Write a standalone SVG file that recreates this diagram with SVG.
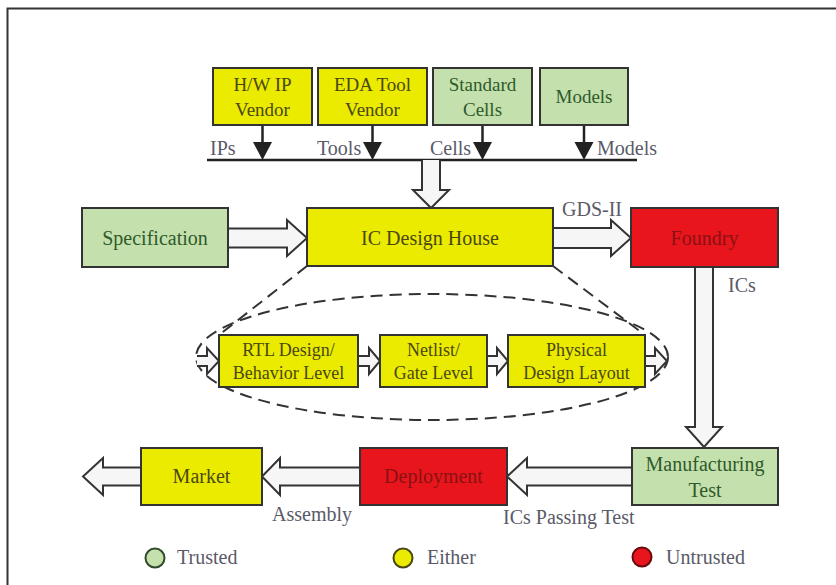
<svg xmlns="http://www.w3.org/2000/svg" width="836" height="585" viewBox="0 0 836 585" font-family="'Liberation Serif', 'DejaVu Serif', serif">
  <style>
    .box { stroke: #333; stroke-width: 2; }
    .either { fill: #ebeb00; }
    .trusted { fill: #c4e0ad; }
    .untrusted { fill: #e8161c; }
    text { font-family: 'Liberation Serif', 'DejaVu Serif', serif; }
    .t { text-anchor: middle; }
    .te { fill: #4a4712; }
    .tt { fill: #2f5a2b; }
    .tu { fill: #8a1014; }
    .lbl { font-size: 20px; fill: #5a5a68; }
    .fat { fill: #f6f6f6; stroke: #333; stroke-width: 2; stroke-linejoin: miter; }
    .dash { fill: none; stroke: #333; stroke-width: 2; stroke-dasharray: 12 7; }
    .thin { stroke: #222; stroke-width: 2.5; }
  </style>

  <!-- outer frame (open on the right and bottom) -->
  <path d="M7.5 585 V8.5 H836" fill="none" stroke="#333" stroke-width="2"/>

  <g id="connectors">
    <!-- supply bus -->
    <line x1="207" y1="160" x2="637" y2="160" stroke="#222" stroke-width="2.5"/>
    <line class="thin" x1="262.5" y1="125" x2="262.5" y2="143"/>
    <polygon points="253,142 272,142 262.5,160" fill="#222"/>
    <line class="thin" x1="372.5" y1="125" x2="372.5" y2="143"/>
    <polygon points="363,142 382,142 372.5,160" fill="#222"/>
    <line class="thin" x1="482.5" y1="125" x2="482.5" y2="143"/>
    <polygon points="473,142 492,142 482.5,160" fill="#222"/>
    <line class="thin" x1="584" y1="125" x2="584" y2="143"/>
    <polygon points="574.5,142 593.5,142 584,160" fill="#222"/>

    <!-- bus to design house -->
    <path class="fat" d="M422 160 V190 H413 L431 208 L449 190 H440 V160"/>
    <!-- specification to design house -->
    <path class="fat" d="M228 228.5 H287 V220 L307 238 L287 256 V247.5 H228"/>
    <!-- design house to foundry -->
    <path class="fat" d="M553 228 H611 V220 L631 238 L611 256 V248 H553"/>
    <!-- foundry to manufacturing test -->
    <path class="fat" d="M695 267 V427 H686 L704 447 L722 427 H713 V267"/>
    <!-- manufacturing test to deployment -->
    <path class="fat" d="M632 467.5 H527 V458 L507 476.5 L527 495 V485.5 H632"/>
    <!-- deployment to market -->
    <path class="fat" d="M360 467.5 H280 V458 L262 476.5 L280 495 V485.5 H360"/>
    <!-- market outwards -->
    <path class="fat" d="M141 467.5 H103 V458 L83 476.5 L103 495 V485.5 H141"/>

    <!-- design flow detail -->
    <ellipse class="dash" cx="432" cy="357" rx="236" ry="63"/>
    <line class="dash" x1="307" y1="266" x2="219" y2="335"/>
    <line class="dash" x1="553" y1="266" x2="645" y2="335"/>
    <path class="fat" stroke-width="1.6" d="M197 356 H207 V348 L219 361 L207 374 V366 H197"/>
    <path class="fat" stroke-width="1.6" d="M358 356 H369 V348 L380 361 L369 374 V366 H358"/>
    <path class="fat" stroke-width="1.6" d="M487 356 H497 V348 L508 361 L497 374 V366 H487"/>
    <path class="fat" stroke-width="1.6" d="M645 356 H655 V348 L667 361 L655 374 V366 H645"/>

    <!-- connector labels -->
    <text class="lbl" x="210" y="155" font-size="19">IPs</text>
    <text class="lbl" x="317" y="155" font-size="19">Tools</text>
    <text class="lbl" x="430" y="155" font-size="19">Cells</text>
    <text class="lbl" x="597" y="155" font-size="19">Models</text>
    <text class="lbl" x="562" y="216">GDS-II</text>
    <text class="lbl" x="728" y="292">ICs</text>
    <text class="lbl" x="272" y="521">Assembly</text>
    <text class="lbl" x="503" y="524">ICs Passing Test</text>
  </g>

  <g id="hw-ip-vendor">
    <rect class="box either" x="213" y="68" width="99" height="57"/>
    <text class="t te" x="262.5" y="91" font-size="19">H/W IP</text>
    <text class="t te" x="262.5" y="116" font-size="19">Vendor</text>
  </g>
  <g id="eda-tool-vendor">
    <rect class="box either" x="318" y="68" width="109" height="57"/>
    <text class="t te" x="372.5" y="91" font-size="19">EDA Tool</text>
    <text class="t te" x="372.5" y="116" font-size="19">Vendor</text>
  </g>
  <g id="standard-cells">
    <rect class="box trusted" x="433" y="68" width="99" height="57"/>
    <text class="t tt" x="482.5" y="91" font-size="19">Standard</text>
    <text class="t tt" x="482.5" y="116" font-size="19">Cells</text>
  </g>
  <g id="models">
    <rect class="box trusted" x="540" y="68" width="88" height="57"/>
    <text class="t tt" x="584" y="103" font-size="19">Models</text>
  </g>

  <g id="specification">
    <rect class="box trusted" x="82" y="208" width="146" height="59"/>
    <text class="t tt" x="155" y="245" font-size="20">Specification</text>
  </g>
  <g id="ic-design-house">
    <rect class="box either" x="307" y="208" width="246" height="58"/>
    <text class="t te" x="430" y="245" font-size="20">IC Design House</text>
  </g>
  <g id="foundry">
    <rect class="box untrusted" x="631" y="208" width="147" height="59"/>
    <text class="t tu" x="704.5" y="245" font-size="20">Foundry</text>
  </g>

  <g id="rtl-design">
    <rect class="box either" x="219" y="335" width="139" height="52"/>
    <text class="t te" x="288.5" y="356" font-size="18">RTL Design/</text>
    <text class="t te" x="288.5" y="379" font-size="18">Behavior Level</text>
  </g>
  <g id="netlist">
    <rect class="box either" x="380" y="335" width="107" height="52"/>
    <text class="t te" x="433.5" y="356" font-size="18">Netlist/</text>
    <text class="t te" x="433.5" y="379" font-size="18">Gate Level</text>
  </g>
  <g id="physical-layout">
    <rect class="box either" x="508" y="335" width="137" height="52"/>
    <text class="t te" x="576.5" y="356" font-size="18">Physical</text>
    <text class="t te" x="576.5" y="379" font-size="18">Design Layout</text>
  </g>

  <g id="manufacturing-test">
    <rect class="box trusted" x="632" y="448" width="146" height="57"/>
    <text class="t tt" x="705" y="471" font-size="20">Manufacturing</text>
    <text class="t tt" x="705" y="497" font-size="20">Test</text>
  </g>
  <g id="deployment">
    <rect class="box untrusted" x="360" y="448" width="147" height="57"/>
    <text class="t tu" x="433.5" y="483" font-size="20">Deployment</text>
  </g>
  <g id="market">
    <rect class="box either" x="141" y="448" width="121" height="57"/>
    <text class="t te" x="201.5" y="483" font-size="20">Market</text>
  </g>

  <g id="legend">
    <circle cx="155" cy="558" r="9.5" fill="#c4e0ad" stroke="#2f4a2b" stroke-width="2"/>
    <text class="lbl" x="177" y="564">Trusted</text>
    <circle cx="403" cy="558" r="9.5" fill="#ebeb00" stroke="#4a4712" stroke-width="2"/>
    <text class="lbl" x="427" y="564">Either</text>
    <circle cx="642" cy="557" r="9.5" fill="#e8161c" stroke="#6a0a0c" stroke-width="2"/>
    <text class="lbl" x="666" y="564">Untrusted</text>
  </g>
</svg>
